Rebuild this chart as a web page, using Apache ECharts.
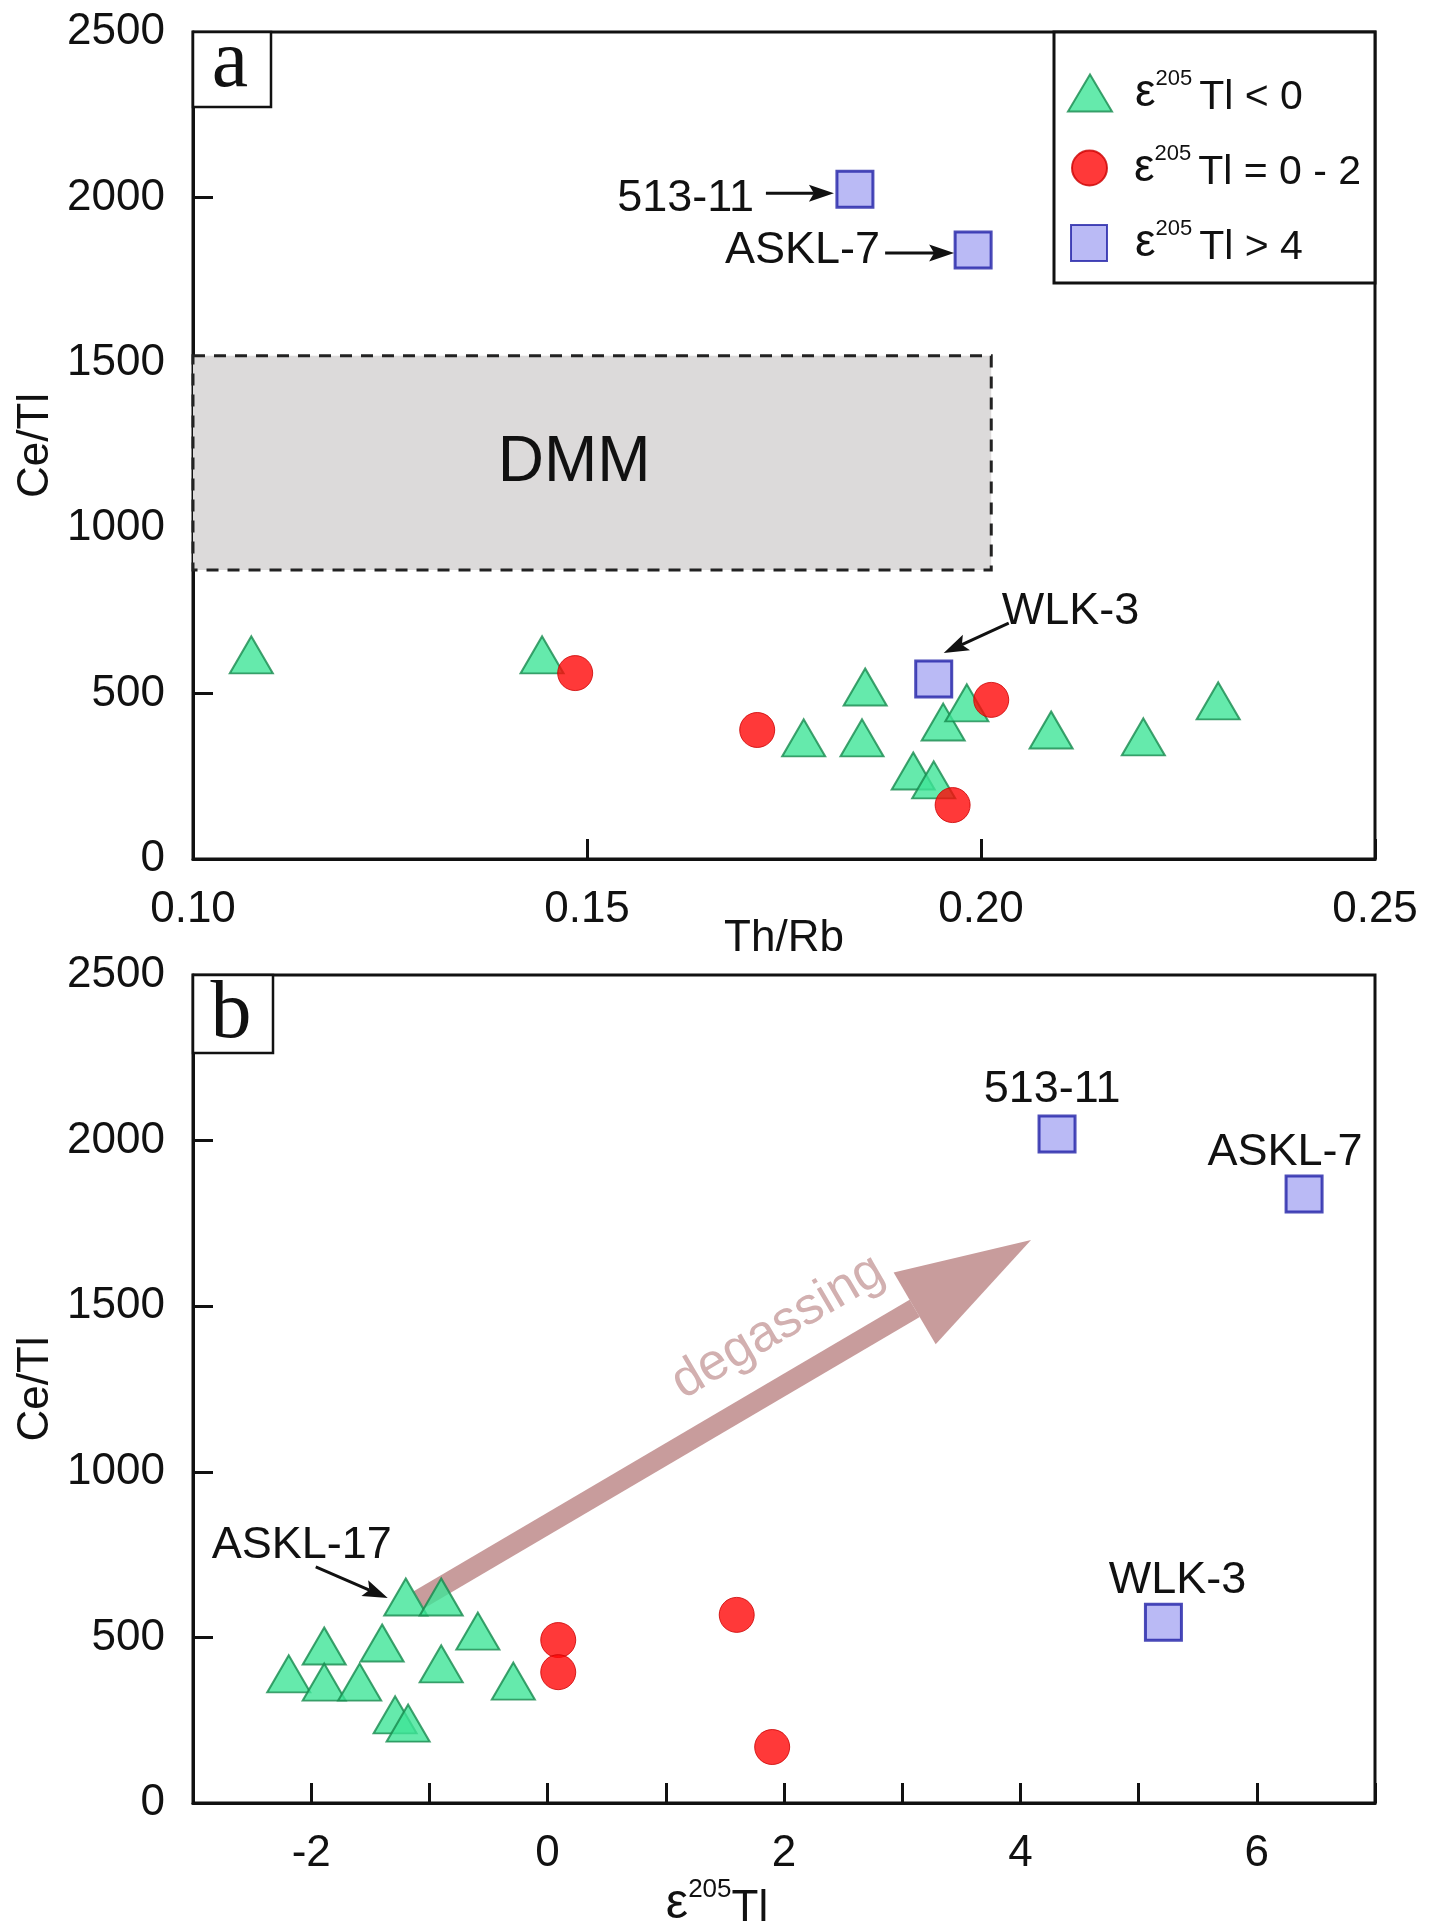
<!DOCTYPE html>
<html>
<head>
<meta charset="utf-8">
<script src="https://cdn.jsdelivr.net/npm/echarts@6/dist/echarts.min.js"></script>
<style>
html,body{margin:0;padding:0;background:#fff;}
#chart{width:1435px;height:1923px;}
</style>
</head>
<body>
<div id="chart"></div>
<script>
// ---------------- DATA ----------------
// Panel a : Th/Rb vs Ce/Tl
const thRbTri   = [0.1074, 0.1443, 0.1775, 0.1849, 0.1853, 0.1914, 0.1940, 0.1952, 0.1982, 0.2089, 0.2206, 0.2301];
const ceTlTriA  = [617, 617, 366, 366, 520, 266, 239, 414, 472, 390, 369, 478];
const thRbCirc  = [0.1485, 0.1716, 0.2013, 0.1964];
const ceTlCircA = [562, 390, 481, 163];
const thRbSq    = [0.184, 0.199, 0.194];
const ceTlSqA   = [2025, 1841, 544];
const sqNames   = ['513-11', 'ASKL-7', 'WLK-3'];
const dmmThRb   = [0.10, 0.2013];
const dmmCeTl   = [874, 1521];

// Panel b : ε205Tl vs Ce/Tl
const epsTri    = [-1.20, -0.90, -0.59, -1.89, -1.40, -0.90, -2.19, -1.89, -1.59, -0.29, -1.29, -1.18];
const ceTlTriB  = [622, 622, 519, 474, 483, 420, 390, 365, 365, 368, 266, 241];
const epsCirc   = [0.09, 0.09, 1.60, 1.90];
const ceTlCircB = [492, 395, 568, 169];
const epsSq     = [4.31, 6.40, 5.21];
const ceTlSqB   = [2020, 1839, 546];

// axes: [min, max, step]
const ceTlAxis  = [0, 2500, 500];
const thRbAxis  = [0.10, 0.25, 0.05];
const epsAxis   = [-3, 7, 1];
const epsLabelled = [-2, 0, 2, 4, 6];

// legend
const legendNames = ['ε205Tl < 0', 'ε205Tl = 0 - 2', 'ε205Tl > 4'];
const legendTails = ['Tl < 0', 'Tl = 0 - 2', 'Tl > 4'];

// degassing arrow (tail, tip) and its label anchor, in ε205Tl / Ce/Tl units
const degassingArrow = [[-1.09, 613], [4.09, 1700]];
const degassingLabel = [1.95, 1437];

// ---------------- STYLE ----------------
const FONT = '"Liberation Sans", Arial, Helvetica, sans-serif';
const SERIF = '"Liberation Serif", "Times New Roman", serif';
const INK = '#111';
const triStyle  = {color: '#3ee597', borderColor: '#16894d', borderWidth: 2};
const circStyle = {color: '#ff0808', borderColor: '#cc0000', borderWidth: 1};
const sqStyle   = {color: '#a9a9f3', borderColor: '#1f1fa6', borderWidth: 3};

const pts = (xs, ys) => xs.map((x, i) => [x, ys[i]]);

const chart = echarts.init(document.getElementById('chart'), null, {renderer: 'canvas'});

function yAxisFor(g) {
  return {
    gridIndex: g, type: 'value', min: ceTlAxis[0], max: ceTlAxis[1], interval: ceTlAxis[2],
    name: 'Ce/Tl', nameLocation: 'middle', nameGap: 135, nameMoveOverlap: false,
    nameTextStyle: {fontSize: 44, fontFamily: FONT, color: INK},
    axisLine: {show: true, onZero: false, lineStyle: {color: INK, width: 3}},
    axisTick: {show: true, inside: true, length: 20, lineStyle: {color: INK, width: 3}},
    axisLabel: {fontSize: 44, fontFamily: FONT, color: INK, margin: 28, formatter: v => String(Math.round(v))},
    splitLine: {show: false}
  };
}

function legendRich(pad) {
  return {
    e: {fontSize: 46, fontFamily: FONT, color: INK, lineHeight: 50, padding: [0, 0, 0, pad]},
    s: {fontSize: 22, fontFamily: FONT, color: INK, lineHeight: 24, verticalAlign: 'top'},
    t: {fontSize: 41, fontFamily: FONT, color: INK, lineHeight: 38, verticalAlign: 'bottom', padding: [0, 0, 0, 7]}
  };
}
const legendIcon = ['triangle', 'circle', 'rect'];
const legendSize = [[44, 37], [35, 35], [36, 36]];
const legendLeft = [1067, 1071, 1070];
const legendTop  = [68, 143, 218];
const legendPad  = [18, 22, 23];

const option = {
  animation: false,
  backgroundColor: '#fff',
  grid: [
    {left: 193, top: 32, width: 1182, height: 827, show: true, borderColor: INK, borderWidth: 3, backgroundColor: 'transparent', outerBoundsMode: 'none'},
    {left: 193, top: 975, width: 1182, height: 828, show: true, borderColor: INK, borderWidth: 3, backgroundColor: 'transparent', outerBoundsMode: 'none'}
  ],
  xAxis: [
    {
      gridIndex: 0, type: 'value', min: thRbAxis[0], max: thRbAxis[1], interval: thRbAxis[2],
      name: 'Th/Rb', nameLocation: 'middle', nameGap: 58, nameMoveOverlap: false,
      nameTextStyle: {fontSize: 44, fontFamily: FONT, color: INK},
      axisLine: {show: true, onZero: false, lineStyle: {color: INK, width: 3}},
      axisTick: {show: true, inside: true, length: 20, lineStyle: {color: INK, width: 3}},
      axisLabel: {fontSize: 44, fontFamily: FONT, color: INK, margin: 29, formatter: v => v.toFixed(2)},
      splitLine: {show: false}
    },
    {
      gridIndex: 1, type: 'value', min: epsAxis[0], max: epsAxis[1], interval: epsAxis[2],
      name: '{e|ε}{s|205}{t|Tl}', nameLocation: 'middle', nameGap: 64,
      nameTextStyle: {
        padding: [0, 134, 0, 0],
        rich: {
          e: {fontSize: 50, lineHeight: 54, fontFamily: FONT, color: INK},
          s: {fontSize: 26, lineHeight: 20, verticalAlign: 'top', fontFamily: FONT, color: INK},
          t: {fontSize: 44, lineHeight: 44, verticalAlign: 'bottom', fontFamily: FONT, color: INK}
        }
      },
      axisLine: {show: true, onZero: false, lineStyle: {color: INK, width: 3}},
      axisTick: {show: true, inside: true, length: 20, lineStyle: {color: INK, width: 3}},
      axisLabel: {fontSize: 44, fontFamily: FONT, color: INK, margin: 29,
        formatter: v => epsLabelled.indexOf(Math.round(v)) >= 0 && Math.abs(v - Math.round(v)) < 1e-9 ? String(Math.round(v)) : ''},
      splitLine: {show: false}
    }
  ],
  yAxis: [yAxisFor(0), yAxisFor(1)],
  legend: legendNames.map((n, i) => ({
    data: [{name: n, icon: legendIcon[i]}],
    orient: 'horizontal', left: legendLeft[i], top: legendTop[i],
    padding: 0, itemGap: 0, selectedMode: false,
    itemWidth: legendSize[i][0], itemHeight: legendSize[i][1],
    formatter: () => '{e|ε}{s|205}{t|' + legendTails[i] + '}',
    textStyle: {rich: legendRich(legendPad[i])}
  })),
  series: [
    // DMM field
    {
      type: 'scatter', name: 'DMM', xAxisIndex: 0, yAxisIndex: 0, data: [], silent: true, z: 1,
      markArea: {
        silent: true,
        itemStyle: {color: '#dcdada', borderColor: '#222', borderWidth: 3, borderType: [12, 9]},
        label: {show: true, position: 'inside', formatter: 'DMM', fontSize: 64, fontFamily: FONT, color: INK, offset: [-18, 0]},
        data: [[{coord: [dmmThRb[0], dmmCeTl[1]]}, {coord: [dmmThRb[1], dmmCeTl[0]]}]]
      }
    },
    // panel a
    {type: 'scatter', name: legendNames[0], xAxisIndex: 0, yAxisIndex: 0, symbol: 'triangle', symbolSize: [43, 37],
     itemStyle: triStyle, data: pts(thRbTri, ceTlTriA), z: 3},
    {type: 'scatter', name: legendNames[2], xAxisIndex: 0, yAxisIndex: 0, symbol: 'rect', symbolSize: 36,
     itemStyle: sqStyle, data: pts(thRbSq, ceTlSqA), z: 3},
    {type: 'scatter', name: legendNames[1], xAxisIndex: 0, yAxisIndex: 0, symbol: 'circle', symbolSize: 35,
     itemStyle: circStyle, data: pts(thRbCirc, ceTlCircA), z: 4},
    // panel b
    {type: 'scatter', name: legendNames[0], xAxisIndex: 1, yAxisIndex: 1, symbol: 'triangle', symbolSize: [43, 37],
     itemStyle: triStyle, data: pts(epsTri, ceTlTriB), z: 3},
    {type: 'scatter', name: legendNames[2], xAxisIndex: 1, yAxisIndex: 1, symbol: 'rect', symbolSize: 36,
     itemStyle: sqStyle, z: 3, data: pts(epsSq, ceTlSqB)},
    {type: 'scatter', name: legendNames[1], xAxisIndex: 1, yAxisIndex: 1, symbol: 'circle', symbolSize: 35,
     itemStyle: circStyle, data: pts(epsCirc, ceTlCircB), z: 4}
  ]
};

chart.setOption(option);

// ---------------- ANNOTATIONS ----------------
function px(g, v) { return chart.convertToPixel({gridIndex: g}, v); }
function arrow(tail, tip, w, headLen, headW, notch, color, z) {
  const dx = tip[0] - tail[0], dy = tip[1] - tail[1], L = Math.hypot(dx, dy);
  const ux = dx / L, uy = dy / L, nx = -uy, ny = ux;
  const bx = tip[0] - ux * headLen, by = tip[1] - uy * headLen;
  const kx = tip[0] - ux * headLen * notch, ky = tip[1] - uy * headLen * notch;
  return [
    {type: 'polyline', z: z, silent: true, shape: {points: [tail, [kx, ky]]},
     style: {stroke: color, lineWidth: w, lineCap: 'butt', fill: null}},
    {type: 'polygon', z: z, silent: true,
     shape: {points: [tip, [bx + nx * headW / 2, by + ny * headW / 2], [kx, ky], [bx - nx * headW / 2, by - ny * headW / 2]]},
     style: {fill: color}}
  ];
}

// callouts: grid, target point, label, text offset (px), align, optional arrow tail/tip offsets (px)
const callouts = [
  {g: 0, at: [thRbSq[0], ceTlSqA[0]], text: sqNames[0], tx: [-101, 9], align: 'right', tail: [-89, 4], tip: [-21, 4]},
  {g: 0, at: [thRbSq[1], ceTlSqA[1]], text: sqNames[1], tx: [-93, 1], align: 'right', tail: [-88, 3], tip: [-19, 3]},
  {g: 0, at: [thRbSq[2], ceTlSqA[2]], text: sqNames[2], tx: [68, -67], align: 'left', tail: [75, -56], tip: [10, -26]},
  {g: 1, at: [epsTri[0], ceTlTriB[0]], text: 'ASKL-17', tx: [-104, -51], align: 'center', tail: [-90, -30], tip: [-18, 1]},
  {g: 1, at: [epsSq[0], ceTlSqB[0]], text: sqNames[0], tx: [-5, -44], align: 'center'},
  {g: 1, at: [epsSq[1], ceTlSqB[1]], text: sqNames[1], tx: [-19, -41], align: 'center'},
  {g: 1, at: [epsSq[2], ceTlSqB[2]], text: sqNames[2], tx: [14, -42], align: 'center'}
];

const elements = [];
// degassing arrow
const dTail = px(1, degassingArrow[0]), dTip = px(1, degassingArrow[1]);
arrow(dTail, dTip, 20, 135, 83, 1, '#c89c9c', 1).forEach(e => elements.push(e));
const dl = px(1, degassingLabel);
const ang = Math.atan2(dTail[1] - dTip[1], dTip[0] - dTail[0]);
elements.push({type: 'text', z: 1, silent: true, x: dl[0], y: dl[1], rotation: ang,
  style: {text: 'degassing', fontSize: 52, fontFamily: FONT, fill: '#d2b0b0', align: 'center', verticalAlign: 'middle'}});

callouts.forEach(c => {
  const p = px(c.g, c.at);
  elements.push({type: 'text', z: 5, silent: true, x: p[0] + c.tx[0], y: p[1] + c.tx[1],
    style: {text: c.text, fontSize: 45, fontFamily: FONT, fill: INK, align: c.align, verticalAlign: 'middle'}});
  if (c.tail) {
    arrow([p[0] + c.tail[0], p[1] + c.tail[1]], [p[0] + c.tip[0], p[1] + c.tip[1]], 3, 25, 17, 0.8, INK, 5)
      .forEach(e => elements.push(e));
  }
});

// legend frame
elements.push({type: 'rect', z: 0, silent: true, shape: {x: 1054, y: 32, width: 321, height: 251},
  style: {fill: '#fff', stroke: INK, lineWidth: 3}});

// panel letters
[['a', 32, 78, 75, 64], ['b', 975, 80, 78, 1015]].forEach(([t, top, w, h, ty]) => {
  elements.push({type: 'rect', z: 6, silent: true, shape: {x: 193, y: top, width: w, height: h},
    style: {fill: '#fff', stroke: INK, lineWidth: 2.5}});
  elements.push({type: 'text', z: 7, silent: true, x: 193 + w / 2 - 2, y: ty,
    style: {text: t, fontSize: 82, fontFamily: SERIF, fill: INK, align: 'center', verticalAlign: 'middle'}});
});

chart.setOption({graphic: {elements: elements}});
</script>
</body>
</html>
